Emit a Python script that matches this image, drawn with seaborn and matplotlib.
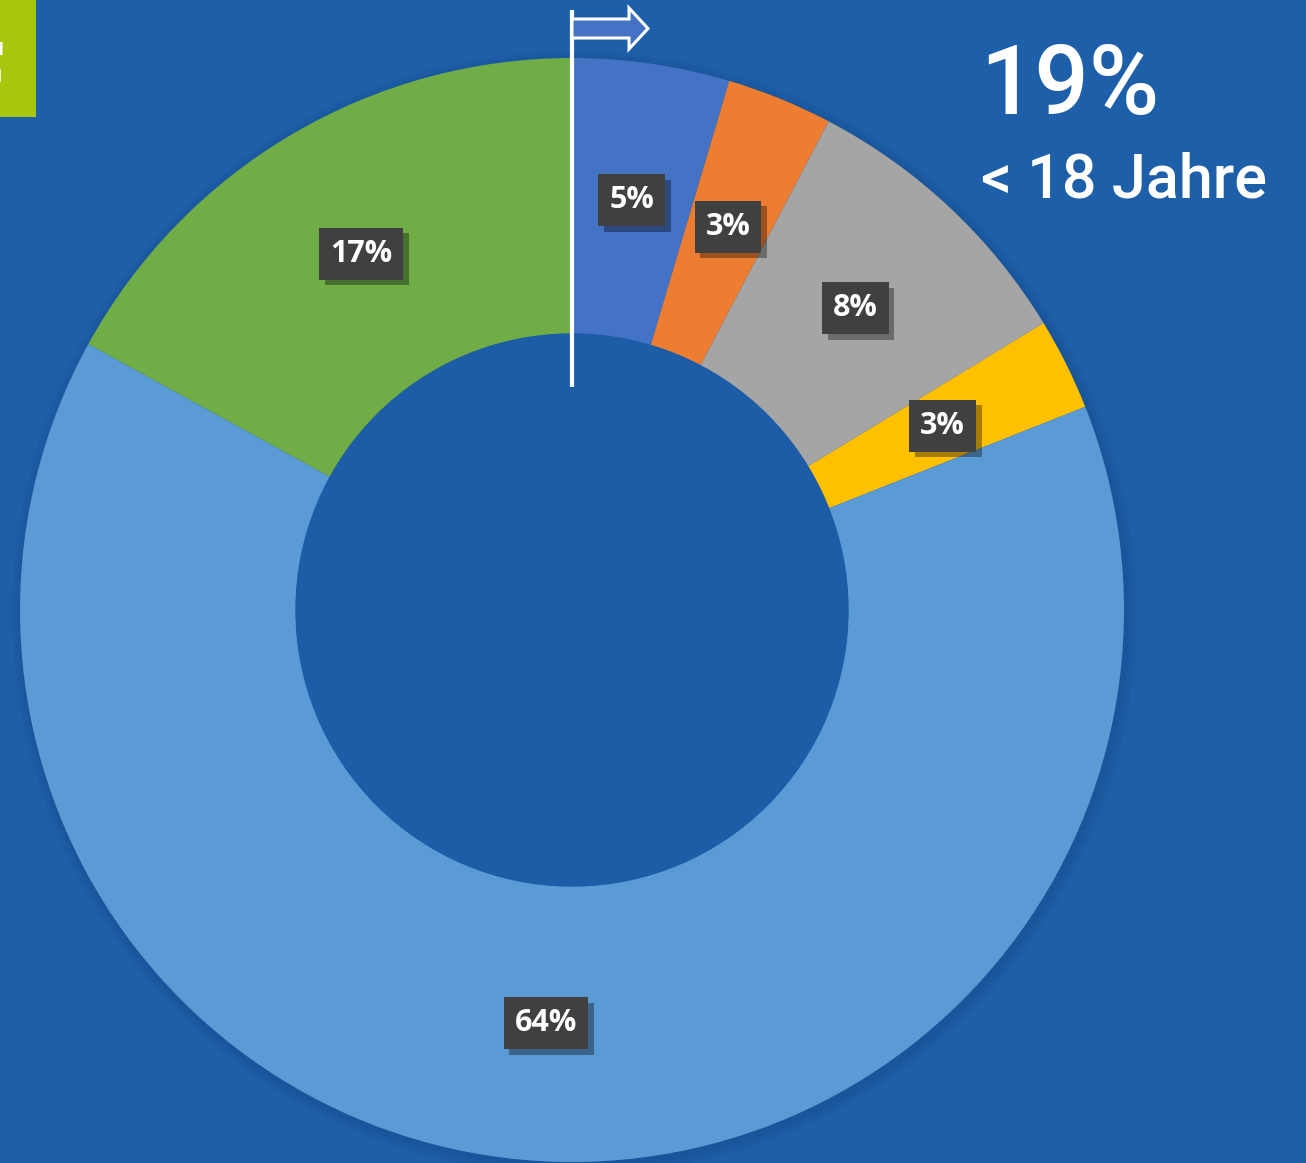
import matplotlib
matplotlib.use("Agg")
import matplotlib.pyplot as plt
import matplotlib.patheffects as pe
import seaborn as sns
import numpy as np
from matplotlib.patches import Polygon, Rectangle, Circle

sns.set_theme(style="white")
plt.rcParams['font.family'] = ['Open Sans', 'DejaVu Sans']
plt.rcParams['hatch.color'] = '#585858'
plt.rcParams['hatch.linewidth'] = 2.0

# Data (clockwise from 12 o'clock)
categories = ["A", "B", "C", "D", "E", "F"]
values = [4.6, 3.1, 8.6, 2.7, 64.0, 17.0]
labels = ["5%", "3%", "8%", "3%", "64%", "17%"]
colors = ["#4472C4", "#ED7D31", "#A5A5A5", "#FFC000", "#5B9BD5", "#70AD47"]
headline = "19%"
subline = "< 18 Jahre"

BG = "#1E5FAA"
W, H = 1306, 1163
CX, CY, R = 572, 610, 552

fig = plt.figure(figsize=(W / 100, H / 100), dpi=100, facecolor=BG)
ax = fig.add_axes([0, 0, 1, 1])
ax.set_facecolor(BG)
ax.axis("off")


def P(px, py):
    return ((px - CX) / R, (CY - py) / R)


# soft shadow around donut
for k, a in enumerate([0.10, 0.10, 0.10]):
    ax.add_patch(Circle((0.004, -0.006), 1.0 + 0.006 * (k + 1), color="#123F73",
                        alpha=a, zorder=0, lw=0))

wedges, _ = ax.pie(values, colors=colors, startangle=90, counterclock=False,
                   radius=1.0, wedgeprops=dict(width=0.5, linewidth=0, edgecolor="none"))
ax.add_patch(Circle((0, 0), 0.5, color="#1D5CA7", zorder=3))
ax.set_xlim(-CX / R, (W - CX) / R)
ax.set_ylim(-(H - CY) / R, CY / R)
ax.set_aspect("equal")

# data labels
total = sum(values)
cum = 0
for v, lab in zip(values, labels):
    mid = cum + v / 2
    cum += v
    ang = np.deg2rad(90 - 360 * mid / total)
    rr = 0.75
    x, y = rr * np.cos(ang), rr * np.sin(ang)
    t = ax.text(x, y, lab, fontsize=22, fontweight="bold", color="white",
                ha="center", va="center", zorder=6,
                bbox=dict(boxstyle="square,pad=0.36", fc="#404040", ec="none", hatch="."))
    t.get_bbox_patch().set_path_effects([
        pe.SimplePatchShadow(offset=(4, -4), shadow_rgbFace="black", alpha=0.35),
        pe.Normal()])

# flag
x0, y0 = P(572, 10)
x1, y1 = P(572, 387)
ax.plot([x0, x1], [y0, y1], color="white", lw=3, zorder=7, solid_capstyle="butt")
pts = [P(572, 19), P(629, 19), P(629, 8), P(648, 28.5), P(629, 49), P(629, 38), P(572, 38)]
ax.add_patch(Polygon(pts, closed=True, fc="#4472C4", ec="white", lw=2.2, zorder=8))

# green tab at top-left
gx, gy = P(0, 117)
ax.add_patch(Rectangle((gx, gy), 36 / R, 117 / R, fc="#A6C70E", ec="none", zorder=2))
tx, ty = P(10, 111)
ax.text(tx, ty, "F", fontsize=68, color="white", ha="right", va="baseline",
        family="DejaVu Sans", fontweight="bold", zorder=3)

# headline
hx, hy = P(980, 114)
ax.text(hx, hy, headline, fontsize=69, color="white", ha="left", va="baseline",
        family=["Roboto", "DejaVu Sans"], fontweight="medium", zorder=9)
sx, sy = P(981, 197)
ax.text(sx, sy, subline, fontsize=44, color="white", ha="left", va="baseline",
        family=["Roboto", "DejaVu Sans"], fontweight="medium", zorder=9)

fig.savefig("out.png", dpi=100, facecolor=BG)
